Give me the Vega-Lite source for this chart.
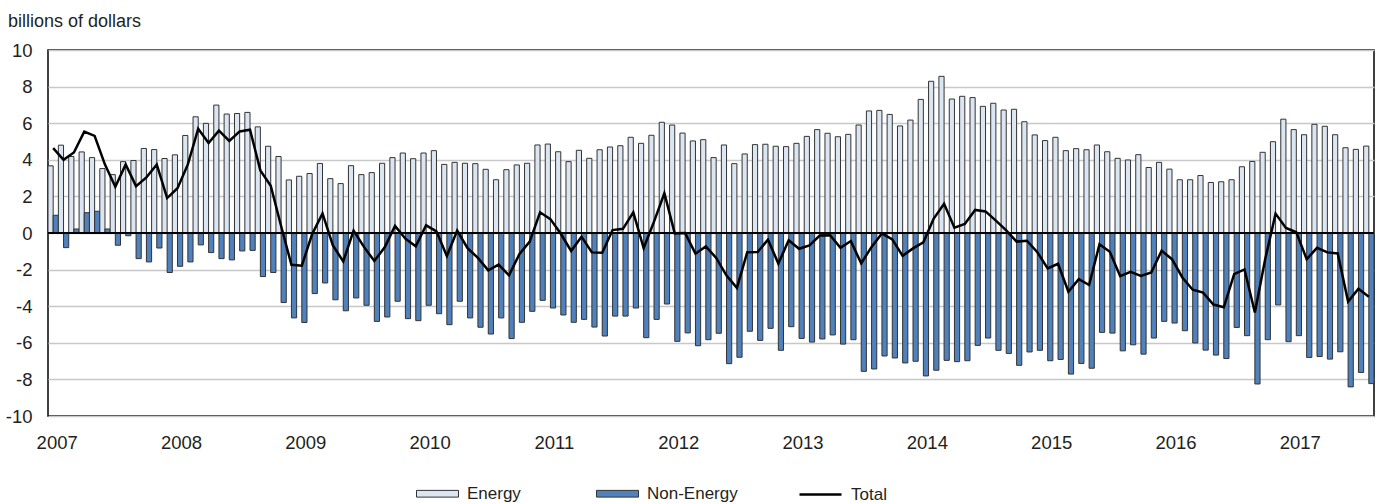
{
  "$schema": "https://vega.github.io/schema/vega-lite/v6.json",
  "width": 1326,
  "height": 366,
  "autosize": {"type": "none"},
  "padding": {"left": 48, "top": 50, "right": 5, "bottom": 88},
  "background": "#ffffff",
  "config": {
    "font": "Liberation Sans, Arial, sans-serif",
    "view": {"stroke": "#000000", "strokeWidth": 1.5},
    "axis": {"labelColor": "#231f20", "titleColor": "#231f20", "labelFontSize": 18.5, "titleFontSize": 18, "titleFontWeight": "normal"},
    "axisY": {"labelOverlap": false},
    "legend": {"labelColor": "#231f20", "labelFontSize": 17, "padding": 0}
  },
  "data": {
    "values": [
      {"m": "2007-01", "Energy": 3.67, "Non-Energy": 0.97, "Total": 4.64},
      {"m": "2007-02", "Energy": 4.80, "Non-Energy": -0.80, "Total": 4.00},
      {"m": "2007-03", "Energy": 4.18, "Non-Energy": 0.22, "Total": 4.40},
      {"m": "2007-04", "Energy": 4.43, "Non-Energy": 1.11, "Total": 5.54},
      {"m": "2007-05", "Energy": 4.12, "Non-Energy": 1.19, "Total": 5.31},
      {"m": "2007-06", "Energy": 3.52, "Non-Energy": 0.22, "Total": 3.74},
      {"m": "2007-07", "Energy": 3.19, "Non-Energy": -0.67, "Total": 2.52},
      {"m": "2007-08", "Energy": 3.90, "Non-Energy": -0.15, "Total": 3.75},
      {"m": "2007-09", "Energy": 3.96, "Non-Energy": -1.40, "Total": 2.56},
      {"m": "2007-10", "Energy": 4.62, "Non-Energy": -1.58, "Total": 3.04},
      {"m": "2007-11", "Energy": 4.56, "Non-Energy": -0.82, "Total": 3.74},
      {"m": "2007-12", "Energy": 4.07, "Non-Energy": -2.16, "Total": 1.91},
      {"m": "2008-01", "Energy": 4.27, "Non-Energy": -1.82, "Total": 2.45},
      {"m": "2008-02", "Energy": 5.33, "Non-Energy": -1.58, "Total": 3.75},
      {"m": "2008-03", "Energy": 6.35, "Non-Energy": -0.65, "Total": 5.70},
      {"m": "2008-04", "Energy": 5.99, "Non-Energy": -1.07, "Total": 4.92},
      {"m": "2008-05", "Energy": 6.99, "Non-Energy": -1.40, "Total": 5.59},
      {"m": "2008-06", "Energy": 6.50, "Non-Energy": -1.47, "Total": 5.03},
      {"m": "2008-07", "Energy": 6.53, "Non-Energy": -0.98, "Total": 5.55},
      {"m": "2008-08", "Energy": 6.59, "Non-Energy": -0.95, "Total": 5.64},
      {"m": "2008-09", "Energy": 5.80, "Non-Energy": -2.38, "Total": 3.42},
      {"m": "2008-10", "Energy": 4.74, "Non-Energy": -2.16, "Total": 2.58},
      {"m": "2008-11", "Energy": 4.18, "Non-Energy": -3.80, "Total": 0.38},
      {"m": "2008-12", "Energy": 2.90, "Non-Energy": -4.64, "Total": -1.74},
      {"m": "2009-01", "Energy": 3.10, "Non-Energy": -4.89, "Total": -1.79},
      {"m": "2009-02", "Energy": 3.25, "Non-Energy": -3.31, "Total": -0.06},
      {"m": "2009-03", "Energy": 3.80, "Non-Energy": -2.73, "Total": 1.07},
      {"m": "2009-04", "Energy": 2.97, "Non-Energy": -3.65, "Total": -0.68},
      {"m": "2009-05", "Energy": 2.70, "Non-Energy": -4.25, "Total": -1.55},
      {"m": "2009-06", "Energy": 3.68, "Non-Energy": -3.55, "Total": 0.13},
      {"m": "2009-07", "Energy": 3.19, "Non-Energy": -3.95, "Total": -0.76},
      {"m": "2009-08", "Energy": 3.30, "Non-Energy": -4.83, "Total": -1.53},
      {"m": "2009-09", "Energy": 3.81, "Non-Energy": -4.59, "Total": -0.78},
      {"m": "2009-10", "Energy": 4.12, "Non-Energy": -3.73, "Total": 0.39},
      {"m": "2009-11", "Energy": 4.37, "Non-Energy": -4.68, "Total": -0.31},
      {"m": "2009-12", "Energy": 4.06, "Non-Energy": -4.79, "Total": -0.73},
      {"m": "2010-01", "Energy": 4.37, "Non-Energy": -3.95, "Total": 0.42},
      {"m": "2010-02", "Energy": 4.50, "Non-Energy": -4.41, "Total": 0.09},
      {"m": "2010-03", "Energy": 3.75, "Non-Energy": -5.01, "Total": -1.26},
      {"m": "2010-04", "Energy": 3.86, "Non-Energy": -3.73, "Total": 0.13},
      {"m": "2010-05", "Energy": 3.81, "Non-Energy": -4.64, "Total": -0.83},
      {"m": "2010-06", "Energy": 3.79, "Non-Energy": -5.15, "Total": -1.36},
      {"m": "2010-07", "Energy": 3.48, "Non-Energy": -5.52, "Total": -2.04},
      {"m": "2010-08", "Energy": 2.91, "Non-Energy": -4.64, "Total": -1.73},
      {"m": "2010-09", "Energy": 3.46, "Non-Energy": -5.77, "Total": -2.31},
      {"m": "2010-10", "Energy": 3.72, "Non-Energy": -4.88, "Total": -1.16},
      {"m": "2010-11", "Energy": 3.81, "Non-Energy": -4.28, "Total": -0.47},
      {"m": "2010-12", "Energy": 4.81, "Non-Energy": -3.68, "Total": 1.13},
      {"m": "2011-01", "Energy": 4.86, "Non-Energy": -4.10, "Total": 0.76},
      {"m": "2011-02", "Energy": 4.44, "Non-Energy": -4.48, "Total": -0.04},
      {"m": "2011-03", "Energy": 3.90, "Non-Energy": -4.88, "Total": -0.98},
      {"m": "2011-04", "Energy": 4.52, "Non-Energy": -4.72, "Total": -0.20},
      {"m": "2011-05", "Energy": 4.08, "Non-Energy": -5.14, "Total": -1.06},
      {"m": "2011-06", "Energy": 4.55, "Non-Energy": -5.63, "Total": -1.08},
      {"m": "2011-07", "Energy": 4.70, "Non-Energy": -4.54, "Total": 0.16},
      {"m": "2011-08", "Energy": 4.77, "Non-Energy": -4.54, "Total": 0.23},
      {"m": "2011-09", "Energy": 5.23, "Non-Energy": -4.10, "Total": 1.13},
      {"m": "2011-10", "Energy": 4.90, "Non-Energy": -5.72, "Total": -0.82},
      {"m": "2011-11", "Energy": 5.34, "Non-Energy": -4.72, "Total": 0.62},
      {"m": "2011-12", "Energy": 6.05, "Non-Energy": -3.88, "Total": 2.17},
      {"m": "2012-01", "Energy": 5.90, "Non-Energy": -5.92, "Total": -0.02},
      {"m": "2012-02", "Energy": 5.46, "Non-Energy": -5.46, "Total": 0.00},
      {"m": "2012-03", "Energy": 5.03, "Non-Energy": -6.16, "Total": -1.13},
      {"m": "2012-04", "Energy": 5.10, "Non-Energy": -5.83, "Total": -0.73},
      {"m": "2012-05", "Energy": 4.12, "Non-Energy": -5.48, "Total": -1.36},
      {"m": "2012-06", "Energy": 4.81, "Non-Energy": -7.14, "Total": -2.33},
      {"m": "2012-07", "Energy": 3.79, "Non-Energy": -6.79, "Total": -3.00},
      {"m": "2012-08", "Energy": 4.32, "Non-Energy": -5.37, "Total": -1.05},
      {"m": "2012-09", "Energy": 4.83, "Non-Energy": -5.87, "Total": -1.04},
      {"m": "2012-10", "Energy": 4.85, "Non-Energy": -5.21, "Total": -0.36},
      {"m": "2012-11", "Energy": 4.74, "Non-Energy": -6.41, "Total": -1.67},
      {"m": "2012-12", "Energy": 4.72, "Non-Energy": -5.12, "Total": -0.40},
      {"m": "2013-01", "Energy": 4.90, "Non-Energy": -5.76, "Total": -0.86},
      {"m": "2013-02", "Energy": 5.28, "Non-Energy": -5.96, "Total": -0.68},
      {"m": "2013-03", "Energy": 5.65, "Non-Energy": -5.79, "Total": -0.14},
      {"m": "2013-04", "Energy": 5.45, "Non-Energy": -5.57, "Total": -0.12},
      {"m": "2013-05", "Energy": 5.26, "Non-Energy": -6.07, "Total": -0.81},
      {"m": "2013-06", "Energy": 5.39, "Non-Energy": -5.83, "Total": -0.44},
      {"m": "2013-07", "Energy": 5.90, "Non-Energy": -7.56, "Total": -1.66},
      {"m": "2013-08", "Energy": 6.67, "Non-Energy": -7.43, "Total": -0.76},
      {"m": "2013-09", "Energy": 6.70, "Non-Energy": -6.72, "Total": -0.02},
      {"m": "2013-10", "Energy": 6.48, "Non-Energy": -6.83, "Total": -0.35},
      {"m": "2013-11", "Energy": 5.85, "Non-Energy": -7.10, "Total": -1.25},
      {"m": "2013-12", "Energy": 6.17, "Non-Energy": -7.01, "Total": -0.84},
      {"m": "2014-01", "Energy": 7.30, "Non-Energy": -7.81, "Total": -0.51},
      {"m": "2014-02", "Energy": 8.29, "Non-Energy": -7.50, "Total": 0.79},
      {"m": "2014-03", "Energy": 8.56, "Non-Energy": -6.96, "Total": 1.60},
      {"m": "2014-04", "Energy": 7.32, "Non-Energy": -7.03, "Total": 0.29},
      {"m": "2014-05", "Energy": 7.47, "Non-Energy": -6.98, "Total": 0.49},
      {"m": "2014-06", "Energy": 7.40, "Non-Energy": -6.14, "Total": 1.26},
      {"m": "2014-07", "Energy": 6.92, "Non-Energy": -5.74, "Total": 1.18},
      {"m": "2014-08", "Energy": 7.09, "Non-Energy": -6.41, "Total": 0.68},
      {"m": "2014-09", "Energy": 6.72, "Non-Energy": -6.58, "Total": 0.14},
      {"m": "2014-10", "Energy": 6.76, "Non-Energy": -7.23, "Total": -0.47},
      {"m": "2014-11", "Energy": 6.08, "Non-Energy": -6.50, "Total": -0.42},
      {"m": "2014-12", "Energy": 5.36, "Non-Energy": -6.41, "Total": -1.05},
      {"m": "2015-01", "Energy": 5.05, "Non-Energy": -6.98, "Total": -1.93},
      {"m": "2015-02", "Energy": 5.23, "Non-Energy": -6.91, "Total": -1.68},
      {"m": "2015-03", "Energy": 4.50, "Non-Energy": -7.71, "Total": -3.21},
      {"m": "2015-04", "Energy": 4.61, "Non-Energy": -7.13, "Total": -2.52},
      {"m": "2015-05", "Energy": 4.55, "Non-Energy": -7.39, "Total": -2.84},
      {"m": "2015-06", "Energy": 4.81, "Non-Energy": -5.43, "Total": -0.62},
      {"m": "2015-07", "Energy": 4.44, "Non-Energy": -5.47, "Total": -1.03},
      {"m": "2015-08", "Energy": 4.08, "Non-Energy": -6.44, "Total": -2.36},
      {"m": "2015-09", "Energy": 3.99, "Non-Energy": -6.11, "Total": -2.12},
      {"m": "2015-10", "Energy": 4.28, "Non-Energy": -6.62, "Total": -2.34},
      {"m": "2015-11", "Energy": 3.58, "Non-Energy": -5.74, "Total": -2.16},
      {"m": "2015-12", "Energy": 3.86, "Non-Energy": -4.83, "Total": -0.97},
      {"m": "2016-01", "Energy": 3.49, "Non-Energy": -4.92, "Total": -1.43},
      {"m": "2016-02", "Energy": 2.91, "Non-Energy": -5.34, "Total": -2.43},
      {"m": "2016-03", "Energy": 2.91, "Non-Energy": -6.01, "Total": -3.10},
      {"m": "2016-04", "Energy": 3.14, "Non-Energy": -6.40, "Total": -3.26},
      {"m": "2016-05", "Energy": 2.76, "Non-Energy": -6.67, "Total": -3.91},
      {"m": "2016-06", "Energy": 2.80, "Non-Energy": -6.86, "Total": -4.06},
      {"m": "2016-07", "Energy": 2.91, "Non-Energy": -5.16, "Total": -2.25},
      {"m": "2016-08", "Energy": 3.62, "Non-Energy": -5.61, "Total": -1.99},
      {"m": "2016-09", "Energy": 3.91, "Non-Energy": -8.25, "Total": -4.34},
      {"m": "2016-10", "Energy": 4.41, "Non-Energy": -5.83, "Total": -1.42},
      {"m": "2016-11", "Energy": 4.99, "Non-Energy": -3.93, "Total": 1.06},
      {"m": "2016-12", "Energy": 6.22, "Non-Energy": -5.94, "Total": 0.28},
      {"m": "2017-01", "Energy": 5.65, "Non-Energy": -5.61, "Total": 0.04},
      {"m": "2017-02", "Energy": 5.37, "Non-Energy": -6.80, "Total": -1.43},
      {"m": "2017-03", "Energy": 5.94, "Non-Energy": -6.75, "Total": -0.81},
      {"m": "2017-04", "Energy": 5.83, "Non-Energy": -6.89, "Total": -1.06},
      {"m": "2017-05", "Energy": 5.37, "Non-Energy": -6.49, "Total": -1.12},
      {"m": "2017-06", "Energy": 4.66, "Non-Energy": -8.41, "Total": -3.75},
      {"m": "2017-07", "Energy": 4.57, "Non-Energy": -7.62, "Total": -3.05},
      {"m": "2017-08", "Energy": 4.75, "Non-Energy": -8.23, "Total": -3.48}
    ]
  },
  "layer": [
    {
      "transform": [{"fold": ["Energy", "Non-Energy"], "as": ["series", "value"]}],
      "mark": {"type": "bar", "stroke": "#333333", "strokeWidth": 1},
      "encoding": {
        "x": {
          "field": "m", "type": "ordinal",
          "scale": {"paddingInner": 0, "paddingOuter": 0},
          "axis": {
            "title": null, "grid": false, "ticks": false, "tickSize": 0, "domain": false,
            "labelAngle": 0, "bandPosition": 0, "labelOffset": 4, "labelPadding": 17,
            "values": ["2007-01","2008-01","2009-01","2010-01","2011-01","2012-01","2013-01","2014-01","2015-01","2016-01","2017-01"],
            "labelExpr": "slice(datum.value, 0, 4)"
          }
        },
        "xOffset": {"field": "series", "type": "nominal", "scale": {"domain": ["Energy", "Non-Energy"], "paddingInner": 0, "paddingOuter": 0}},
        "y": {
          "field": "value", "type": "quantitative", "stack": null,
          "scale": {"domain": [-10, 10], "nice": false},
          "axis": {
            "values": [-10, -8, -6, -4, -2, 0, 2, 4, 6, 8, 10],
            "labelExpr": "'' + datum.value",
            "labelOverlap": false, "labelBound": false, "labelFlush": false,
            "grid": true, "gridColor": "#c8c8c8", "gridWidth": 1.5,
            "ticks": false, "tickSize": 0, "domain": false, "labelPadding": 16,
            "title": "billions of dollars", "titleAngle": 0, "titleAlign": "left", "titleBaseline": "alphabetic",
            "titleX": -40.5, "titleY": -23.5
          }
        },
        "fill": {
          "field": "series", "type": "nominal",
          "scale": {"domain": ["Energy", "Non-Energy"], "range": ["#dce6f2", "#4f81bd"]},
          "legend": {
            "title": null, "orient": "none", "direction": "horizontal", "legendX": 368, "legendY": 422,
            "symbolType": "M-1,-0.16H1V0.16H-1Z", "symbolSize": 1764, "symbolStrokeColor": "#333333", "symbolStrokeWidth": 1,
            "labelOffset": 8, "columnPadding": 73
          }
        }
      }
    },
    {
      "mark": {"type": "rule", "color": "#000000", "strokeWidth": 1.5},
      "encoding": {
        "y": {
          "datum": 0, "type": "quantitative",
          "axis": {
            "values": [-10, -8, -6, -4, -2, 0, 2, 4, 6, 8, 10],
            "labelExpr": "'' + datum.value",
            "labelOverlap": false, "labelBound": false, "labelFlush": false,
            "grid": true, "gridColor": "#c8c8c8", "gridWidth": 1.5,
            "ticks": false, "tickSize": 0, "domain": false, "labelPadding": 16,
            "title": "billions of dollars", "titleAngle": 0, "titleAlign": "left", "titleBaseline": "alphabetic",
            "titleX": -40.5, "titleY": -23.5
          }
        }
      }
    },
    {
      "mark": {"type": "line", "strokeWidth": 2.5, "strokeJoin": "miter"},
      "encoding": {
        "x": {
          "field": "m", "type": "ordinal", "scale": {"paddingInner": 0, "paddingOuter": 0},
          "axis": {
            "title": null, "grid": false, "ticks": false, "tickSize": 0, "domain": false,
            "labelAngle": 0, "bandPosition": 0, "labelOffset": 4, "labelPadding": 17,
            "values": ["2007-01","2008-01","2009-01","2010-01","2011-01","2012-01","2013-01","2014-01","2015-01","2016-01","2017-01"],
            "labelExpr": "slice(datum.value, 0, 4)"
          }
        },
        "y": {
          "field": "Total", "type": "quantitative",
          "axis": {
            "values": [-10, -8, -6, -4, -2, 0, 2, 4, 6, 8, 10],
            "labelExpr": "'' + datum.value",
            "labelOverlap": false, "labelBound": false, "labelFlush": false,
            "grid": true, "gridColor": "#c8c8c8", "gridWidth": 1.5,
            "ticks": false, "tickSize": 0, "domain": false, "labelPadding": 16,
            "title": "billions of dollars", "titleAngle": 0, "titleAlign": "left", "titleBaseline": "alphabetic",
            "titleX": -40.5, "titleY": -23.5
          }
        },
        "stroke": {
          "datum": "Total", "type": "nominal",
          "scale": {"domain": ["Total"], "range": ["#000000"]},
          "legend": {
            "title": null, "orient": "none", "legendX": 750, "legendY": 422,
            "symbolType": "stroke", "symbolSize": 1764, "symbolStrokeWidth": 2.5, "labelOffset": 8
          }
        }
      }
    }
  ]
}
